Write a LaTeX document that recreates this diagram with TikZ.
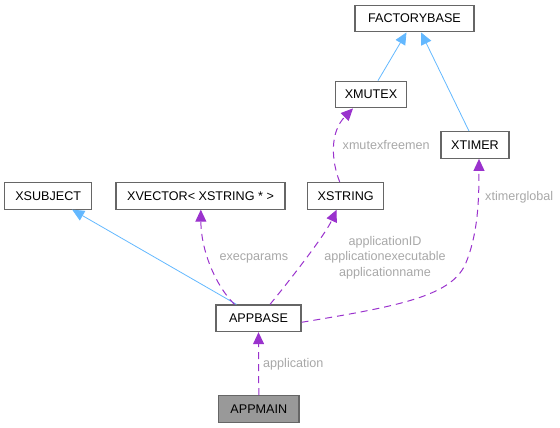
\documentclass[tikz,border=0pt]{standalone}
\usepackage{fontspec}
\setmainfont{Liberation Sans}
\usetikzlibrary{arrows.meta}
\definecolor{boxline}{HTML}{666666}
\definecolor{inhblue}{HTML}{63B8FF}
\definecolor{usepurple}{HTML}{9A32CD}
\definecolor{lblgray}{HTML}{A8A8A8}
\definecolor{mainfill}{HTML}{999999}
\tikzset{
  cls/.style={draw=boxline, line width=1.1pt, fill=white, inner sep=0pt, font=\fontsize{12.6}{14}\selectfont, text=black, minimum height=26.7pt},
  inh/.style={draw=inhblue, line width=0.8pt, -{Triangle[length=12pt,width=11pt,fill=inhblue]}},
  usesrel/.style={draw=usepurple, line width=1pt, dash pattern=on 7pt off 5pt, -{Triangle[length=12pt,width=11pt,fill=usepurple]}},
  lbl/.style={text=lblgray, font=\fontsize{12.6}{15.6}\selectfont, inner sep=0pt}
}
\begin{document}
\begin{tikzpicture}[x=1pt,y=-1pt]
\useasboundingbox (0,0) rectangle (560,428);
\node[cls, minimum width=119pt] (factorybase) at (414.5,18.5) {FACTORYBASE};
\node[cls, minimum width=71.7pt] (xmutex) at (371,94.5) {XMUTEX};
\node[cls, minimum width=68pt] (xtimer) at (475,145) {XTIMER};
\node[cls, minimum width=87pt] (xsubject) at (48.2,195.8) {XSUBJECT};
\node[cls, minimum width=169pt] (xvector) at (200.5,195.8) {XVECTOR< XSTRING * >};
\node[cls, minimum width=76pt] (xstring) at (345.7,195.8) {XSTRING};
\node[cls, minimum width=85pt] (appbase) at (258.5,318.3) {APPBASE};
\node[cls, minimum width=80.3pt, fill=mainfill] (appmain) at (258.8,409) {APPMAIN};

\draw[inh] ([xshift=7pt]xmutex.north) -- ([xshift=-8pt]factorybase.south);
\draw[inh] ([xshift=-6pt]xtimer.north) -- ([xshift=6.5pt]factorybase.south);
\draw[inh] ([xshift=-22pt]appbase.north) -- ([xshift=24pt]xsubject.south);

\draw[usesrel] ([xshift=-24pt]appbase.north) .. controls (215,285) and (201,250) .. ([xshift=0.3pt]xvector.south);
\draw[usesrel] ([xshift=11.5pt]appbase.north) .. controls (290,280) and (325,235) .. ([xshift=-9pt]xstring.south);
\draw[usesrel] ([yshift=-4pt]appbase.east) .. controls (400,306) and (450,296) .. (465,265) .. controls (478,235) and (479,200) .. ([xshift=4pt]xtimer.south);
\draw[usesrel] ([xshift=-6pt]xstring.north) .. controls (331,160) and (330,132) .. ([xshift=-18pt]xmutex.south);
\draw[usesrel] (appmain.north) -- (appbase.south);

\node[lbl, anchor=west] (lexec) at (219.3,258) {execparams};
\node[lbl, align=center] (lapp) at (385,257.5) {applicationID\\applicationexecutable\\applicationname};
\node[lbl, anchor=west] (ltimer) at (485,197) {xtimerglobal};
\node[lbl, anchor=west] (lmutex) at (342.5,145) {xmutexfreemen};
\node[lbl, anchor=west] (lappl) at (263,364.5) {application};
\end{tikzpicture}
\end{document}
